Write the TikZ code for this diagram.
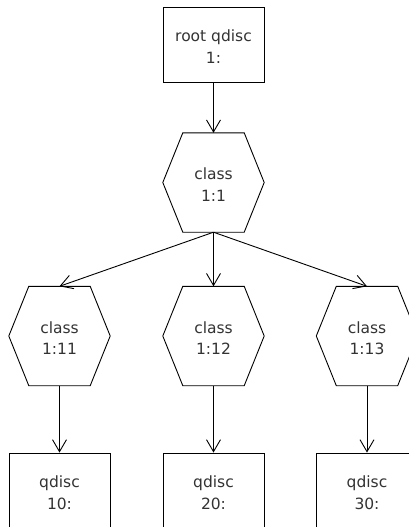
\documentclass[tikz,border=0pt]{standalone}
\usepackage{fontspec}
\setmainfont{DejaVu Sans}
\usetikzlibrary{arrows.meta}
\tikzset{
  x=1pt, y=1pt,
  lbl/.style={align=center, text=black!80, font=\fontsize{15.5}{21.5}\selectfont, inner sep=0pt, yshift=-2pt},
  boxnode/.style={draw, line width=0.9pt, minimum width=101pt, minimum height=75pt, inner sep=0pt},
  hexnode/.style={minimum width=101pt, minimum height=99pt, inner sep=0pt},
  conn/.style={line width=0.9pt, -{Straight Barb[length=12pt, width=14pt, line width=0.9pt]}}
}
\newcommand{\hexdraw}[1]{%
  \draw[line width=0.9pt] (#1.west) -- ([xshift=20pt]#1.north west) -- ([xshift=-20pt]#1.north east)
    -- (#1.east) -- ([xshift=-20pt]#1.south east) -- ([xshift=20pt]#1.south west) -- cycle;}
\begin{document}
\begin{tikzpicture}
\useasboundingbox (0,0) rectangle (409,-527);
\clip (0,0) rectangle (409,-527);
\node[boxnode, label={[lbl]center:root qdisc\\1:}] (root) at (213.5,-44.5) {};
\node[hexnode, label={[lbl]center:class\\1:1}] (c1) at (213.5,-182.5) {};
\node[hexnode, label={[lbl]center:class\\1:11}] (c11) at (59.5,-336) {};
\node[hexnode, label={[lbl]center:class\\1:12}] (c12) at (213.5,-336) {};
\node[hexnode, label={[lbl]center:class\\1:13}] (c13) at (367,-336) {};
\node[boxnode, label={[lbl]center:qdisc\\10:}] (q10) at (59.5,-490.5) {};
\node[boxnode, label={[lbl]center:qdisc\\20:}] (q20) at (213.5,-490.5) {};
\node[boxnode, label={[lbl]center:qdisc\\30:}] (q30) at (367,-490.5) {};
\hexdraw{c1}
\hexdraw{c11}
\hexdraw{c12}
\hexdraw{c13}
\draw[conn] (root.south) -- (c1.north);
\draw[conn] (c1.south) -- (c11.north);
\draw[conn] (c1.south) -- (c12.north);
\draw[conn] (c1.south) -- (c13.north);
\draw[conn] (c11.south) -- (q10.north);
\draw[conn] (c12.south) -- (q20.north);
\draw[conn] (c13.south) -- (q30.north);
\end{tikzpicture}
\end{document}
